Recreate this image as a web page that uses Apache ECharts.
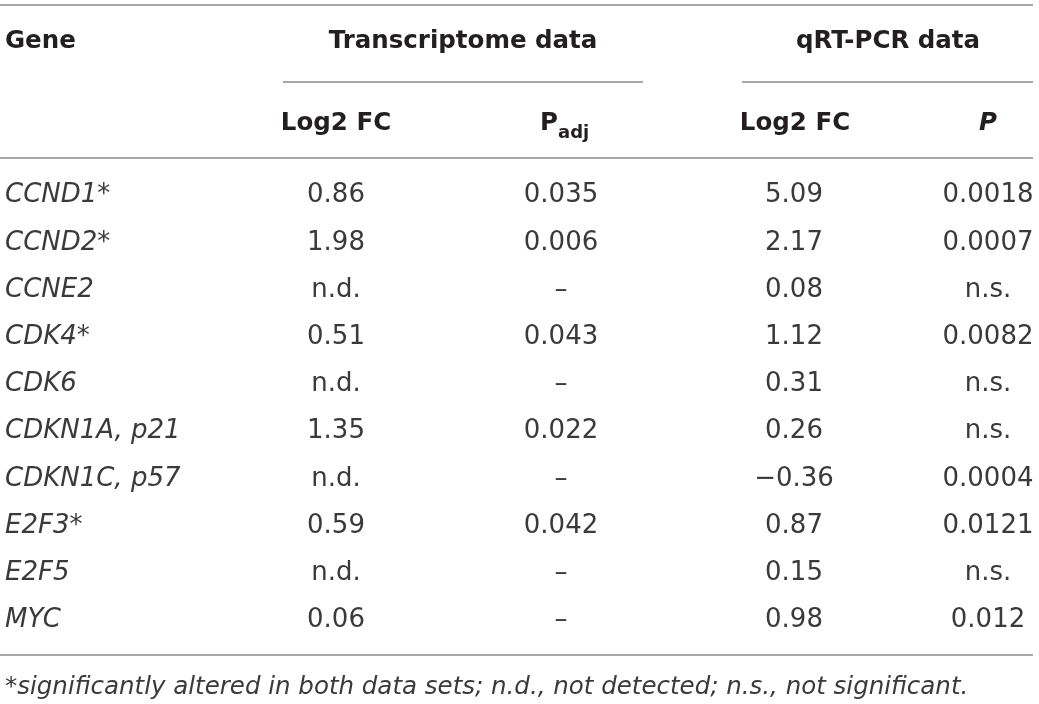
<!doctype html>
<html>
<head>
<meta charset="UTF-8">
<title>Gene table</title>
<script src="https://cdn.jsdelivr.net/npm/echarts@6/dist/echarts.min.js"></script>
<style>
  html, body { margin: 0; padding: 0; background: #fff; }
  #main { width: 1039px; height: 704px; }
</style>
</head>
<body>
<div id="main"></div>
<script>
// table content
var genes = ['CCND1*', 'CCND2*', 'CCNE2', 'CDK4*', 'CDK6', 'CDKN1A, p21', 'CDKN1C, p57', 'E2F3*', 'E2F5', 'MYC'];
var trLog2FC = ['0.86', '1.98', 'n.d.', '0.51', 'n.d.', '1.35', 'n.d.', '0.59', 'n.d.', '0.06'];
var trPadj = ['0.035', '0.006', '\u2013', '0.043', '\u2013', '0.022', '\u2013', '0.042', '\u2013', '\u2013'];
var qLog2FC = ['5.09', '2.17', '0.08', '1.12', '0.31', '0.26', '\u22120.36', '0.87', '0.15', '0.98'];
var qP = ['0.0018', '0.0007', 'n.s.', '0.0082', 'n.s.', 'n.s.', '0.0004', '0.0121', 'n.s.', '0.012'];
var footnote = '*significantly altered in both data sets; n.d., not detected; n.s., not significant.';

// layout
var FONT = '"DejaVu Sans", Verdana, sans-serif';
var rowTop = 172, rowHeight = 472;
var columns = [
  { values: genes, left: 5, width: 200, align: 'left', italic: true },
  { values: trLog2FC, center: 336 },
  { values: trPadj, center: 561 },
  { values: qLog2FC, center: 794 },
  { values: qP, center: 988 }
];

var chart = echarts.init(document.getElementById('main'));

var grids = [], xAxes = [], yAxes = [], series = [];
columns.forEach(function (col, ci) {
  var left = col.left != null ? col.left : col.center - 30;
  var width = col.width != null ? col.width : 60;
  grids.push({ left: left, width: width, top: rowTop, height: rowHeight, containLabel: false });
  xAxes.push({ type: 'category', gridIndex: ci, data: ['c'], show: false });
  yAxes.push({ type: 'category', gridIndex: ci, data: genes, inverse: true, show: false });
  series.push({
    type: 'custom',
    xAxisIndex: ci,
    yAxisIndex: ci,
    clip: false,
    data: col.values.map(function (v, i) { return [0, i]; }),
    encode: { x: 0, y: 1 },
    renderItem: function (params, api) {
      var pt = api.coord([0, api.value(1)]);
      var x = col.align === 'left' ? params.coordSys.x : pt[0];
      return {
        type: 'text',
        style: {
          text: col.values[params.dataIndex],
          x: x,
          y: pt[1],
          align: col.align || 'center',
          verticalAlign: 'middle',
          fontFamily: FONT,
          fontSize: 26,
          fontStyle: col.italic ? 'italic' : 'normal',
          fill: '#3a3a3a'
        }
      };
    }
  });
});

function rule(x1, x2, y) {
  return { type: 'line', shape: { x1: x1, y1: y, x2: x2, y2: y },
           style: { stroke: '#8a8a8a', lineWidth: 1.5 }, silent: true };
}
function head(text, x, y, align, extra) {
  var st = { text: text, x: x, y: y, align: align, verticalAlign: 'middle',
             fontFamily: FONT, fontSize: 24.5, fontWeight: 'bold', fill: '#231f20' };
  if (extra) for (var k in extra) st[k] = extra[k];
  return { type: 'text', style: st, silent: true };
}

var graphics = [
  rule(0, 1033, 5),
  rule(283, 643, 82),
  rule(742, 1033, 82),
  rule(0, 1033, 158),
  rule(0, 1033, 655),
  head('Gene', 5, 42, 'left'),
  head('Transcriptome data', 463, 42, 'center'),
  head('qRT-PCR data', 888, 42, 'center'),
  head('Log2 FC', 336, 124, 'center'),
  head('P', 540, 124, 'left'),
  head('adj', 558, 133, 'left', { fontSize: 18 }),
  head('Log2 FC', 795, 124, 'center'),
  head('P', 988, 124, 'center', { fontStyle: 'italic' }),
  { type: 'text', silent: true,
    style: { text: footnote, x: 5, y: 688, align: 'left', verticalAlign: 'middle',
             fontFamily: FONT, fontSize: 24.5, fontStyle: 'italic', fill: '#3a3a3a' } }
];

chart.setOption({
  animation: false,
  backgroundColor: '#ffffff',
  grid: grids,
  xAxis: xAxes,
  yAxis: yAxes,
  series: series,
  graphic: graphics
});
</script>
</body>
</html>
